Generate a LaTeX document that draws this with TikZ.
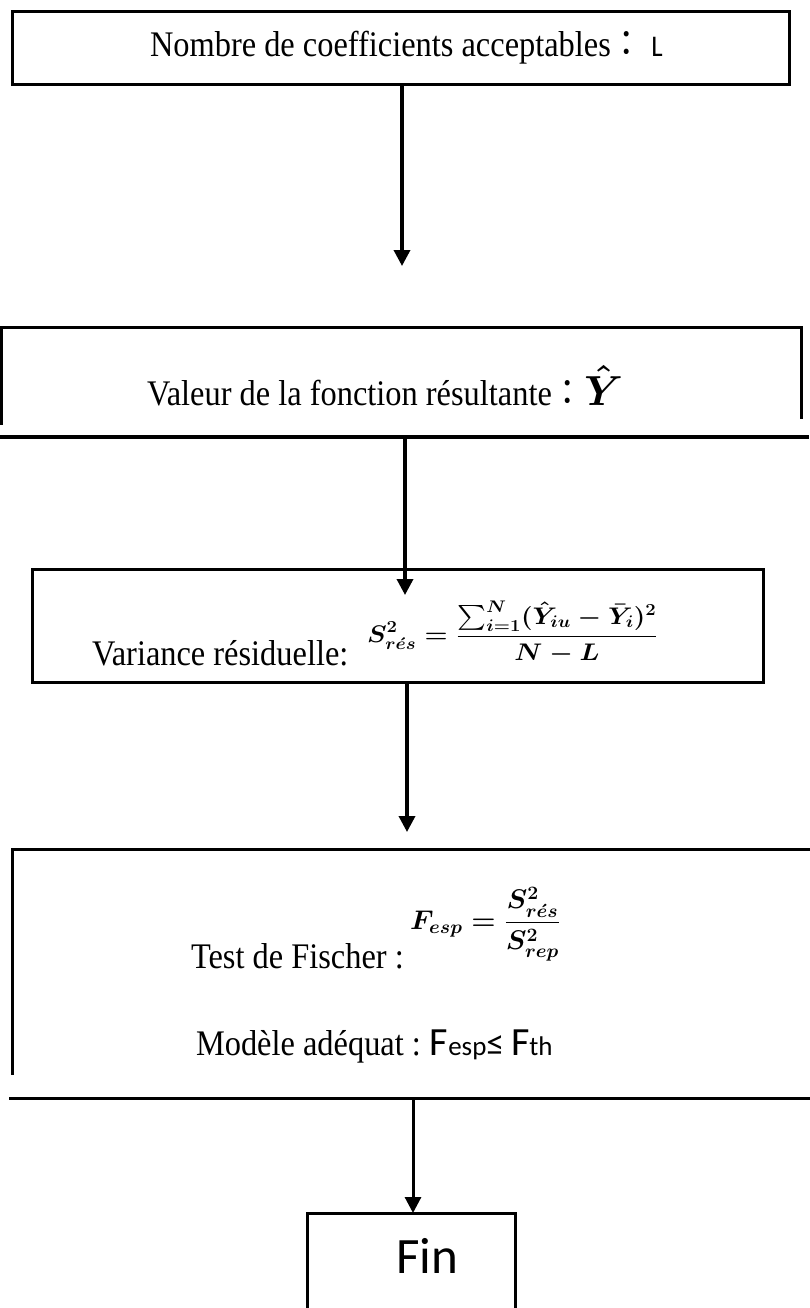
\RequirePackage{fix-cm}
\documentclass[tikz,border=0pt]{standalone}
\usepackage{graphicx}
\usepackage{amsmath,bm}
\usepackage{fontspec}
\setmainfont{Liberation Serif}
\newfontfamily\calib{Carlito}
\newfontfamily\cjk{Noto Sans CJK JP}
\usetikzlibrary{arrows.meta}
\newcommand{\ser}[1]{\scalebox{0.9}[1]{\fontsize{36}{40}\selectfont #1}}
\newcommand{\bmath}[3]{\scalebox{#3}[1]{\fontsize{#1}{#1}\selectfont\boldmath$\displaystyle #2$}}
\begin{document}
\begin{tikzpicture}[x=1pt,y=-1pt,
  frame/.style={line width=3pt, line cap=rect},
  heavy/.style={line width=4pt},
  arr/.style={line width=3.5pt, -{Triangle[length=16pt,width=16pt]}},
  txt/.style={anchor=base west, inner sep=0pt, outer sep=0pt}]
\fill[white] (0,0) rectangle (809,1308);
\useasboundingbox (0,0) rectangle (809,1308);

% Box 1
\node[draw, frame, minimum width=777pt, minimum height=73pt, inner sep=0pt] (b1) at (400.5,48.5) {};
\node[txt] (t1) at (150,57) {\ser{Nombre de coefficients acceptables{\cjk ：} {\calib\fontsize{30}{32}\selectfont L}}};

% Box 2 (open)
\draw[frame] (1,423) -- (1,327) -- (801,327) -- (801,417);
\draw[heavy] (0,437) coordinate (b2l) -- (809,437) coordinate (b2r);
\node[txt] (t2) at (147,405) {\ser{Valeur de la fonction résultante{\cjk ：}}\bmath{42}{\hat{Y}}{1}};

% Box 3
\node[draw, frame, minimum width=731pt, minimum height=113pt, inner sep=0pt] (b3) at (397.5,625.5) {};
\node[txt] (t3) at (92,665) {\ser{Variance résiduelle:}};
\node[txt] (f3) at (367,642) {\bmath{24}{S^2_{r\acute{e}s} = \frac{\sum_{i=1}^{N}(\hat{Y}_{iu}-\bar{Y}_i)^2}{N-L}}{1.1}};

% Box 4 (open)
\draw[frame] (12,1073) -- (12,849) -- (812,849);
\draw[frame] (10,1098) coordinate (b4l) -- (812,1098) coordinate (b4r);
\node[txt] (t4) at (191,968) {\ser{Test de Fischer :}};
\node[txt] (f4) at (410,929) {\bmath{27}{F_{esp} = \frac{S^2_{r\acute{e}s}}{S^2_{rep}}}{1.03}};
\node[txt] (t5) at (196,1055) {\ser{Modèle adéquat :}\hspace{9pt}{\calib\fontsize{40}{44}\selectfont F{\fontsize{27}{30}\selectfont esp}{\fontsize{36}{40}\selectfont ≤}\,F{\fontsize{27}{30}\selectfont th}}};

% Fin box (open bottom)
\draw[frame] (307,1312) -- (307,1213) -- (515,1213) -- (515,1312);
\coordinate (fintop) at (413,1213);
\node[txt] (tfin) at (396,1273) {\calib\fontsize{51}{60}\selectfont Fin};

% Arrows
\coordinate (a1) at (402,266);
\draw[arr] (b1.south -| a1) -- (a1);
\coordinate (a2s) at (405,437);
\coordinate (a2) at (405,595);
\draw[arr] (a2s) -- (a2);
\coordinate (a3) at (407,832);
\draw[arr] (b3.south -| a3) -- (a3);
\coordinate (a4s) at (413,1098);
\draw[arr, line width=3pt] (a4s) -- (fintop);
\end{tikzpicture}
\end{document}
